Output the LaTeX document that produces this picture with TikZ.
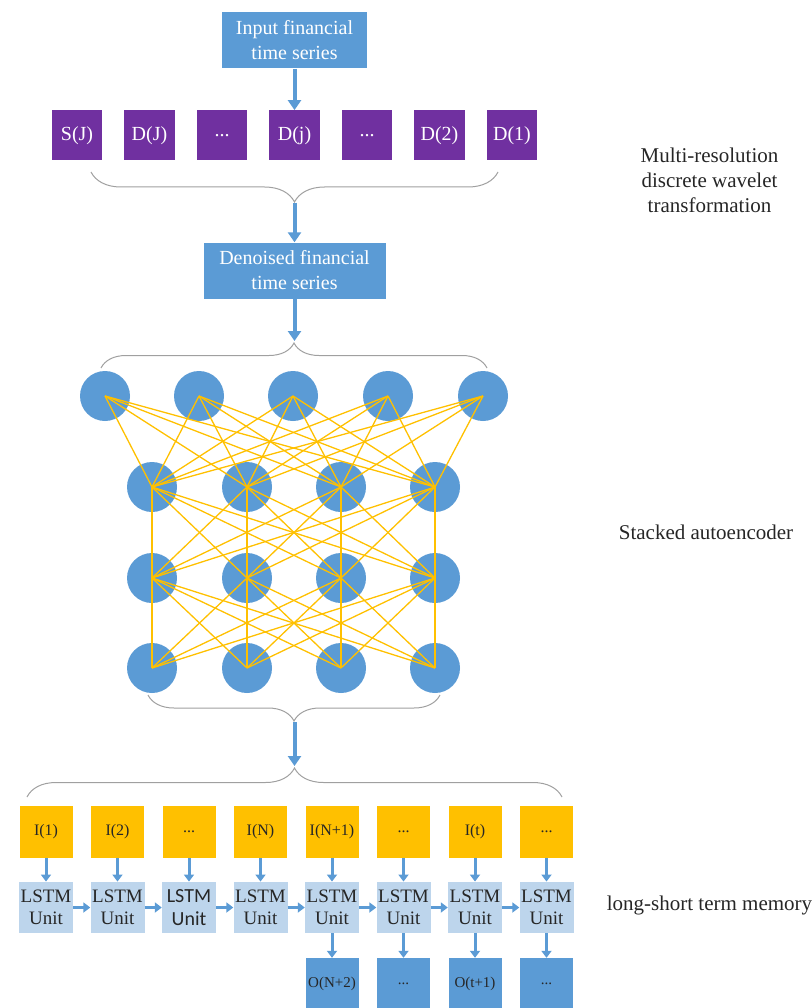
\documentclass[tikz,border=0pt]{standalone}
\usepackage{fontspec}
\setmainfont{Liberation Serif}
\newfontfamily\unitfont{Carlito}
\usetikzlibrary{arrows.meta,decorations.pathreplacing}

\definecolor{boxblue}{RGB}{91,155,213}
\definecolor{wavepurple}{RGB}{112,48,160}
\definecolor{inorange}{RGB}{255,192,0}
\definecolor{lstmblue}{RGB}{189,213,236}
\definecolor{bracegray}{RGB}{160,160,160}

\tikzset{
	seriesbox/.style={fill=boxblue, text=white, minimum height=56pt, inner sep=0pt, align=center, font=\fontsize{20}{25}\selectfont},
	coefbox/.style={fill=wavepurple, text=white, minimum width=50.5pt, minimum height=50pt, inner sep=0pt, font=\fontsize{20}{24}\selectfont},
	neuron/.style={circle, fill=boxblue, minimum size=50pt, inner sep=0pt},
	inbox/.style={fill=inorange, text=black!85, minimum width=53pt, minimum height=52pt, inner sep=0pt, font=\fontsize{16}{18}\selectfont},
	lstmbox/.style={fill=lstmblue, text=black!85, minimum width=54pt, minimum height=51.5pt, inner sep=0pt, align=center, font=\fontsize{19}{22}\selectfont},
	outbox/.style={fill=boxblue, text=black!85, minimum width=53pt, minimum height=52pt, inner sep=0pt, font=\fontsize{15}{18}\selectfont},
	bigarrow/.style={draw=boxblue, line width=4pt, -{Triangle[width=13pt,length=10pt]}},
	smallarrow/.style={draw=boxblue, line width=3pt, -{Triangle[width=10pt,length=7pt]}},
	link/.style={draw=inorange, line width=1.3pt},
	curly/.style={draw=bracegray, line width=1pt, decorate, decoration={brace, amplitude=#1}},
	sidelabel/.style={text=black!85, align=center, font=\fontsize{21}{25}\selectfont}
}

\begin{document}
\begin{tikzpicture}[x=1pt, y=-1pt]
	\useasboundingbox (0,0) rectangle (811,1008);

	%wavelet part
	\node[seriesbox, minimum width=145pt] (input) at (294.5,40.5) {Input financial\\time series};
	\node[coefbox] (cfS)  at (77,135.3)    {S(J)};
	\node[coefbox] (cfJ)  at (149.5,135.3) {D(J)};
	\node[coefbox] (cfdA) at (222,135.3)   {...};
	\node[coefbox] (cfj)  at (294.5,135.3) {D(j)};
	\node[coefbox] (cfdB) at (367,135.3)   {...};
	\node[coefbox] (cf2)  at (439.5,135.3) {D(2)};
	\node[coefbox] (cf1)  at (512,135.3)   {D(1)};
	\node[seriesbox, minimum width=182pt] (denoised) at (294.5,270.5) {Denoised financial\\time series};

	%autoencoder
	\node[neuron] (na1) at (105,396) {};
	\node[neuron] (na2) at (199,396) {};
	\node[neuron] (na3) at (293,396) {};
	\node[neuron] (na4) at (388,396) {};
	\node[neuron] (na5) at (483,396) {};
	\node[neuron] (nb1) at (152,487) {};
	\node[neuron] (nb2) at (247,487) {};
	\node[neuron] (nb3) at (341,487) {};
	\node[neuron] (nb4) at (435,487) {};
	\node[neuron] (nc1) at (152,578) {};
	\node[neuron] (nc2) at (247,578) {};
	\node[neuron] (nc3) at (341,578) {};
	\node[neuron] (nc4) at (435,578) {};
	\node[neuron] (nd1) at (152,668) {};
	\node[neuron] (nd2) at (247,668) {};
	\node[neuron] (nd3) at (341,668) {};
	\node[neuron] (nd4) at (435,668) {};
	\foreach \i in {1,...,5}
		\foreach \j in {1,...,4}
			\draw[link] (na\i.center) -- (nb\j.center);
	\foreach \i in {1,...,4}
		\foreach \j in {1,...,4}{
			\draw[link] (nb\i.center) -- (nc\j.center);
			\draw[link] (nc\i.center) -- (nd\j.center);
		}

	%lstm
	\node[inbox] (i1) at (46,832)    {I(1)};
	\node[inbox] (i2) at (117.5,832) {I(2)};
	\node[inbox] (i3) at (189,832)   {...};
	\node[inbox] (i4) at (260.5,832) {I(N)};
	\node[inbox] (i5) at (332,832)   {I(N+1)};
	\node[inbox] (i6) at (403.5,832) {...};
	\node[inbox] (i7) at (475,832)   {I(t)};
	\node[inbox] (i8) at (546.5,832) {...};
	\node[lstmbox] (u1) at (46,907.5)    {LSTM\\Unit};
	\node[lstmbox] (u2) at (117.5,907.5) {LSTM\\Unit};
	\node[lstmbox, font=\unitfont\fontsize{20}{23}\selectfont] (u3) at (189,907.5) {LSTM\\Unit};
	\node[lstmbox] (u4) at (260.5,907.5) {LSTM\\Unit};
	\node[lstmbox] (u5) at (332,907.5)   {LSTM\\Unit};
	\node[lstmbox] (u6) at (403.5,907.5) {LSTM\\Unit};
	\node[lstmbox] (u7) at (475,907.5)   {LSTM\\Unit};
	\node[lstmbox] (u8) at (546.5,907.5) {LSTM\\Unit};
	\node[outbox] (o5) at (332,984)   {O(N+2)};
	\node[outbox] (o6) at (403.5,984) {...};
	\node[outbox] (o7) at (475,984)   {O(t+1)};
	\node[outbox] (o8) at (546.5,984) {...};

	%braces
	\coordinate (bw1) at (91,172);    \coordinate (be1) at (498,172);    \coordinate (bt1) at (294.5,203);
	\coordinate (bw2) at (101,368);   \coordinate (be2) at (487,368);    \coordinate (bt2) at (294.5,341);
	\coordinate (bw3) at (148,695);   \coordinate (be3) at (440,695);    \coordinate (bt3) at (294.5,722);
	\coordinate (bw4) at (27,797);    \coordinate (be4) at (562,797);    \coordinate (bt4) at (294.5,766);
	\draw[curly=30pt] (be1) -- (bw1);
	\draw[curly=25pt] (bw2) -- (be2);
	\draw[curly=26pt] (be3) -- (bw3);
	\draw[curly=29pt] (bw4) -- (be4);

	%arrows
	\draw[bigarrow] (input.south) -- (cfj.north);
	\draw[bigarrow] (bt1) -- (denoised.north);
	\draw[bigarrow] (denoised.south) -- (bt2);
	\draw[bigarrow] (bt3) -- (bt4);
	\foreach \k in {1,...,8}
		\draw[smallarrow] (i\k.south) -- (u\k.north);
	\foreach \k/\l in {1/2,2/3,3/4,4/5,5/6,6/7,7/8}
		\draw[smallarrow] (u\k.east) -- (u\l.west);
	\foreach \k in {5,...,8}
		\draw[smallarrow] (u\k.south) -- (o\k.north);

	%labels
	\node[sidelabel] (wavelabel) at (709.5,180) {Multi-resolution\\discrete wavelet\\transformation};
	\node[sidelabel] (saelabel)  at (706,532)   {Stacked autoencoder};
	\node[sidelabel] (lstmlabel) at (709.5,905) {long-short term memory};
\end{tikzpicture}
\end{document}
